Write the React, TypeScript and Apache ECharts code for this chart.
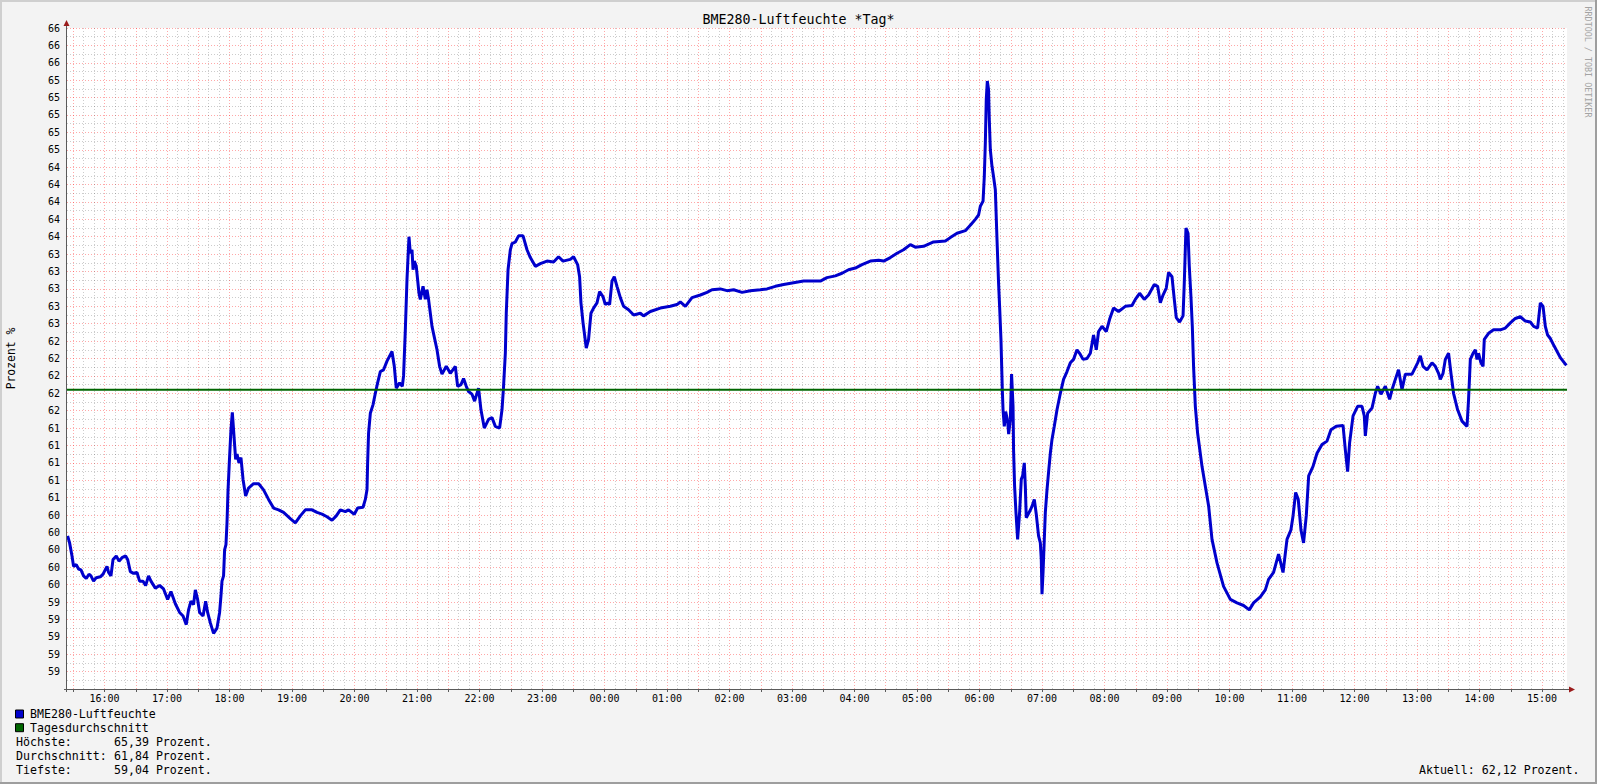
import React, { useEffect, useRef } from "react";
import * as echarts from "echarts";

// ---------- data ----------
const START_HOUR = 15;
const START_MINUTE = 24;
const SPAN_MINUTES = 1440;

const xTickLabels = [
  "16:00", "17:00", "18:00", "19:00", "20:00", "21:00", "22:00", "23:00",
  "00:00", "01:00", "02:00", "03:00", "04:00", "05:00", "06:00", "07:00",
  "08:00", "09:00", "10:00", "11:00", "12:00", "13:00", "14:00", "15:00",
];

const yMin = 58.4;
const yMax = 66.0;
const yStep = 0.2;

// minutes after 15:24
const minutes = [
  0.6, 2.5, 4.8, 6.3, 8.9, 11.1, 13.4, 15.9, 18.5, 21.1, 23, 25.5, 28.1, 32, 34.6, 38.4, 39.9, 42.2, 44.2, 47.3,
  49.9, 52.8, 56.3, 58.2, 60.8, 63.9, 67.2, 69.7, 73, 75.5, 78.3, 80.6, 84.8, 88.9, 92.7, 96.6, 99.8, 104, 108.1, 111.4,
  114.5, 116.7, 119, 121.5, 123.2, 125.4, 127.3, 130.6, 133.1, 135, 137.6, 140.7, 144, 146.5, 147.8, 148.8, 150.3, 151.3, 152.6, 153.6,
  154.6, 155.8, 157.4, 158.7, 159.9, 161.9, 163.2, 165.1, 167, 169, 171.5, 174.3, 179.1, 184, 188.7, 193.5, 198.3, 203.1, 207.9, 214.4,
  219.2, 224, 228.8, 235.2, 240, 244.8, 249.6, 254.4, 258.5, 262.4, 267.2, 270.3, 275.8, 279, 284.2, 286.4, 288, 288.6, 289.5, 291.2,
  293.8, 296, 298.2, 300.8, 303.9, 307.2, 312, 314.2, 316.1, 319.3, 321.9, 323.1, 324.8, 326.4, 328.3, 329.6, 331.2, 332.2, 333.4, 335.3,
  337.9, 339.2, 341.8, 344, 345.6, 347.1, 350.4, 355.2, 357.7, 360, 364.1, 368, 372.8, 375, 378.2, 380.7, 383.3, 385.5, 388.8, 391.3,
  395.1, 397.4, 400.6, 404.7, 408, 411.2, 415.3, 417.6, 419.1, 420.8, 421.7, 423.4, 425.6, 427.2, 430.4, 433.5, 437.8, 441.6, 444.8, 449.6,
  454.4, 460.8, 467.1, 471.9, 476.2, 483.2, 486.3, 490.2, 492.1, 493.4, 495.4, 498.5, 500.7, 503, 505.5, 508.8, 511.3, 514.6, 516.8, 519,
  520.9, 523.2, 525.4, 528, 531.2, 534.3, 539.1, 544, 550.4, 553.5, 560, 569.6, 579.2, 585.6, 588.8, 593.6, 600, 608, 614.4, 619.2,
  627.2, 633.6, 640, 648, 656, 665.6, 672, 680, 688, 697.5, 707.1, 716.7, 723.2, 729.6, 737.6, 744, 750.3, 756.8, 763.2, 771.2,
  779.1, 784, 790.4, 796.8, 803.1, 809.6, 814.4, 822.3, 831.9, 843.2, 848, 854.4, 862.4, 867.8, 872, 875.1, 876.8, 879.4, 880.6, 881.6,
  882.5, 883.5, 884.7, 885.4, 886.4, 888, 889.5, 891.2, 892.8, 894.3, 895.3, 896.6, 897.9, 898.6, 899.8, 901.1, 903, 904, 905.6, 906.8,
  908.2, 908.7, 909.7, 911, 912.6, 914.5, 916.1, 917.4, 919, 920, 920.9, 924.1, 926.4, 928.6, 930.5, 932.7, 934.4, 935.3, 936, 937,
  938.2, 939.2, 940.8, 942.3, 944, 945.6, 947.8, 950.4, 953.6, 956.7, 960, 963.2, 966.3, 969.6, 972.1, 975.4, 979.2, 982.4, 985.5, 988.1,
  990.3, 993.6, 997.7, 1000.9, 1004.7, 1009.5, 1016, 1022.4, 1025.6, 1029.7, 1034.2, 1038.3, 1043.8, 1047, 1049.6, 1052.2, 1055.3, 1057.5, 1060.8, 1063,
  1064.9, 1068.1, 1071.4, 1072.6, 1074.2, 1076.2, 1077.4, 1079, 1080.3, 1081.5, 1083.2, 1085.4, 1089.6, 1092.8, 1096, 1099.2, 1104, 1110.3, 1116.8, 1123.2,
  1129.5, 1135, 1139.1, 1145.6, 1150.4, 1153.5, 1158.3, 1163.1, 1167.4, 1171.2, 1175, 1177, 1179.5, 1182, 1184.6, 1187.1, 1189.7, 1192, 1196.2, 1200,
  1204.8, 1209.6, 1213.4, 1218.5, 1225, 1227.2, 1229.4, 1231.3, 1234.6, 1239, 1243.2, 1245.4, 1246.4, 1248.6, 1252.8, 1256, 1258.2, 1261.4, 1265.6, 1269.7,
  1272, 1275.2, 1278.3, 1281.6, 1284.8, 1291.2, 1296.6, 1299.2, 1301.8, 1305.6, 1310.4, 1313.6, 1316.7, 1318.4, 1321, 1323.2, 1326.3, 1328.6, 1331.1, 1335,
  1339.2, 1344, 1345.5, 1347.2, 1349.8, 1352, 1353.6, 1355.1, 1357.4, 1359.4, 1360.6, 1364.7, 1369.5, 1376, 1380.8, 1385.6, 1390.4, 1395.2, 1400, 1404.8,
  1408, 1411.8, 1414.4, 1417, 1419.2, 1421.4, 1424, 1427.8, 1433.6, 1439.4,
];

const humidity = [
  60.16, 60.08, 59.93, 59.81, 59.83, 59.78, 59.77, 59.70, 59.67, 59.72, 59.70, 59.64, 59.68, 59.69, 59.72, 59.81, 59.74, 59.70, 59.89, 59.93,
  59.87, 59.91, 59.93, 59.89, 59.75, 59.73, 59.74, 59.64, 59.64, 59.59, 59.70, 59.64, 59.56, 59.59, 59.55, 59.43, 59.52, 59.38, 59.28, 59.24,
  59.14, 59.31, 59.41, 59.37, 59.54, 59.43, 59.28, 59.24, 59.41, 59.28, 59.16, 59.04, 59.10, 59.28, 59.47, 59.64, 59.70, 60.00, 60.06, 60.31,
  60.69, 61.00, 61.38, 61.58, 61.38, 61.04, 61.10, 61.00, 61.06, 60.81, 60.62, 60.71, 60.76, 60.76, 60.69, 60.58, 60.48, 60.46, 60.43, 60.36,
  60.31, 60.39, 60.46, 60.46, 60.43, 60.41, 60.38, 60.34, 60.39, 60.46, 60.44, 60.46, 60.41, 60.48, 60.49, 60.58, 60.69, 61.00, 61.34, 61.57,
  61.67, 61.80, 61.92, 62.05, 62.07, 62.17, 62.28, 62.11, 61.86, 61.92, 61.88, 62.00, 62.53, 63.11, 63.60, 63.41, 63.45, 63.22, 63.32, 63.26,
  62.95, 62.88, 63.03, 62.88, 62.99, 62.88, 62.57, 62.30, 62.11, 62.02, 62.11, 62.03, 62.11, 61.88, 61.90, 61.97, 61.88, 61.82, 61.79, 61.71,
  61.86, 61.61, 61.40, 61.50, 61.52, 61.42, 61.40, 61.61, 61.88, 62.26, 62.72, 63.22, 63.45, 63.52, 63.54, 63.61, 63.61, 63.45, 63.36, 63.26,
  63.29, 63.32, 63.31, 63.37, 63.32, 63.34, 63.37, 63.28, 63.14, 62.84, 62.61, 62.32, 62.42, 62.72, 62.78, 62.84, 62.97, 62.91, 62.82, 62.84,
  62.82, 63.09, 63.14, 63.03, 62.90, 62.80, 62.76, 62.70, 62.72, 62.69, 62.74, 62.78, 62.80, 62.82, 62.85, 62.80, 62.90, 62.93, 62.96, 62.99,
  63.00, 62.98, 62.99, 62.96, 62.98, 62.99, 63.00, 63.03, 63.05, 63.07, 63.09, 63.09, 63.09, 63.13, 63.15, 63.18, 63.22, 63.24, 63.28, 63.32,
  63.33, 63.32, 63.36, 63.41, 63.45, 63.51, 63.48, 63.49, 63.54, 63.55, 63.59, 63.64, 63.67, 63.74, 63.80, 63.85, 63.95, 64.01, 64.29, 64.68,
  65.18, 65.39, 65.29, 64.95, 64.60, 64.41, 64.29, 64.14, 63.57, 63.07, 62.80, 62.42, 61.84, 61.61, 61.42, 61.59, 61.48, 61.33, 61.50, 62.02,
  61.65, 61.15, 60.73, 60.43, 60.12, 60.43, 60.81, 60.85, 61.00, 60.73, 60.37, 60.44, 60.50, 60.58, 60.41, 60.16, 60.08, 59.89, 59.49, 59.74,
  60.12, 60.43, 60.69, 60.89, 61.11, 61.27, 61.42, 61.61, 61.80, 61.96, 62.05, 62.15, 62.19, 62.30, 62.26, 62.19, 62.20, 62.26, 62.47, 62.30,
  62.51, 62.57, 62.51, 62.65, 62.78, 62.74, 62.80, 62.81, 62.88, 62.95, 62.88, 62.93, 63.05, 63.03, 62.84, 62.93, 63.01, 63.19, 63.14, 62.88,
  62.67, 62.62, 62.69, 63.07, 63.70, 63.64, 63.26, 62.91, 62.57, 62.11, 61.65, 61.34, 60.96, 60.73, 60.50, 60.12, 59.85, 59.58, 59.43, 59.39,
  59.36, 59.31, 59.39, 59.46, 59.54, 59.66, 59.74, 59.95, 59.74, 60.12, 60.23, 60.39, 60.66, 60.58, 60.23, 60.08, 60.39, 60.85, 60.96, 61.11,
  61.21, 61.25, 61.38, 61.42, 61.43, 61.15, 60.90, 61.23, 61.54, 61.65, 61.65, 61.54, 61.31, 61.57, 61.63, 61.80, 61.88, 61.79, 61.88, 61.73,
  61.84, 61.96, 62.07, 61.84, 62.02, 62.02, 62.15, 62.23, 62.11, 62.07, 62.15, 62.11, 62.03, 61.96, 62.03, 62.19, 62.26, 62.03, 61.80, 61.61,
  61.48, 61.42, 61.73, 62.19, 62.26, 62.30, 62.19, 62.26, 62.15, 62.11, 62.42, 62.49, 62.53, 62.53, 62.55, 62.61, 62.66, 62.68, 62.63, 62.62,
  62.57, 62.55, 62.84, 62.80, 62.57, 62.47, 62.43, 62.34, 62.21, 62.12,
];

const tagesdurchschnitt = 61.84;
const hoechste = 65.39;
const durchschnitt = 61.84;
const tiefste = 59.04;
const aktuell = 62.12;

// ---------- layout ----------
const W = 1597;
const H = 784;
const PL = 67;
const PT = 28;
const PW = 1500;
const PH = 661;
const PB = PT + PH;
const PR = PL + PW;

const MONO = '"DejaVu Sans Mono", "Liberation Mono", monospace';
const BLUE = "#0000CC";
const GREEN = "#006600";
const ARROW = "#9B1C1C";
const AXIS = "#5A5A5A";
const MAJOR = "rgba(255,0,0,0.34)";
const MINOR = "rgba(0,0,0,0.2)";

const fmt = (v: number) => v.toFixed(2).replace(".", ",");

function minuteOfHour(i: number) {
  return (START_MINUTE + i) % 60;
}

function buildCategories() {
  const out: string[] = [];
  for (let i = 0; i <= SPAN_MINUTES; i++) {
    const t = (START_HOUR * 60 + START_MINUTE + i) % 1440;
    const h = Math.floor(t / 60);
    const m = t % 60;
    out.push(String(h).padStart(2, "0") + ":" + String(m).padStart(2, "0"));
  }
  return out;
}

export default function App() {
  const ref = useRef<HTMLDivElement>(null);

  useEffect(() => {
    document.body.style.margin = "0";
    if (!ref.current) return;
    const chart = echarts.init(ref.current, undefined, { renderer: "svg" });
    const cats = buildCategories();
    const tickSet = new Set(xTickLabels);

    const txt = (
      text: string,
      x: number,
      y: number,
      size: number,
      extra: any = {},
      styleExtra: any = {}
    ) => ({
      type: "text",
      x,
      y,
      z: 20,
      silent: true,
      ...extra,
      style: {
        text,
        fontFamily: MONO,
        fontSize: size,
        fill: "#000",
        align: "left",
        verticalAlign: "middle",
        ...styleExtra,
      },
    });

    const legendY = [714, 727.7, 742.3, 756, 770];
    const valueCol = 16 + 14 * 7;

    const option: any = {
      animation: false,
      backgroundColor: "#F3F3F3",
      grid: {
        left: PL,
        top: PT,
        width: PW,
        height: PH,
        show: true,
        backgroundColor: "#FFFFFF",
        borderWidth: 0,
        containLabel: false,
      },
      xAxis: [
        { type: "value", min: 0, max: SPAN_MINUTES, show: false },
        {
          type: "category",
          data: cats,
          boundaryGap: false,
          position: "bottom",
          axisLine: { show: false },
          axisTick: {
            show: true,
            length: 3,
            interval: (i: number) => minuteOfHour(i) % 30 === 0,
            lineStyle: { color: AXIS },
          },
          axisLabel: {
            interval: (_i: number, v: string) => tickSet.has(v),
            fontFamily: MONO,
            fontSize: 10,
            color: "#000",
            margin: 4,
          },
          splitLine: {
            show: true,
            interval: (i: number) => minuteOfHour(i) % 30 === 0,
            lineStyle: { color: MAJOR, width: 1, type: [1, 2] },
          },
        },
        {
          type: "category",
          data: cats,
          boundaryGap: false,
          position: "bottom",
          axisLine: { show: false },
          axisTick: { show: false },
          axisLabel: { show: false },
          splitLine: {
            show: true,
            interval: (i: number) => minuteOfHour(i) % 10 === 0 && minuteOfHour(i) % 30 !== 0,
            lineStyle: { color: MINOR, width: 1, type: [1, 2] },
          },
        },
      ],
      yAxis: {
        type: "value",
        min: yMin,
        max: yMax,
        interval: yStep,
        axisLine: { show: false },
        axisTick: { show: false },
        axisLabel: {
          formatter: (v: number) => (v < yMin + yStep / 2 ? "" : String(Math.round(v))),
          fontFamily: MONO,
          fontSize: 10,
          color: "#000",
          margin: 7,
        },
        splitLine: {
          show: true,
          lineStyle: { color: MAJOR, width: 1, type: [1, 2] },
        },
        minorTick: { show: false, splitNumber: 2 },
        minorSplitLine: {
          show: true,
          lineStyle: { color: MINOR, width: 1, type: [1, 2] },
        },
      },
      series: [
        {
          name: "BME280-Luftfeuchte",
          type: "line",
          xAxisIndex: 0,
          yAxisIndex: 0,
          data: minutes.map((m, i) => [m, humidity[i]]),
          symbol: "none",
          lineStyle: { color: BLUE, width: 3 },
          z: 3,
          silent: true,
        },
        {
          name: "Tagesdurchschnitt",
          type: "line",
          xAxisIndex: 0,
          yAxisIndex: 0,
          data: [
            [0, tagesdurchschnitt],
            [SPAN_MINUTES, tagesdurchschnitt],
          ],
          symbol: "none",
          lineStyle: { color: GREEN, width: 2 },
          z: 4,
          silent: true,
        },
      ],
      graphic: [
        // frame
        { type: "rect", shape: { x: 0, y: 0, width: W, height: 2 }, style: { fill: "#CFCFCF" }, silent: true, z: 1 },
        { type: "rect", shape: { x: 0, y: 0, width: 2, height: H }, style: { fill: "#CFCFCF" }, silent: true, z: 1 },
        { type: "rect", shape: { x: 0, y: H - 2, width: W, height: 2 }, style: { fill: "#9E9E9E" }, silent: true, z: 1 },
        { type: "rect", shape: { x: W - 2, y: 0, width: 2, height: H }, style: { fill: "#9E9E9E" }, silent: true, z: 1 },
        // axes
        { type: "line", shape: { x1: PL - 3, y1: PB + 0.5, x2: PR + 3, y2: PB + 0.5 }, style: { stroke: AXIS, lineWidth: 1 }, silent: true, z: 10 },
        { type: "line", shape: { x1: PL - 0.5, y1: PB + 3, x2: PL - 0.5, y2: PT - 3 }, style: { stroke: AXIS, lineWidth: 1 }, silent: true, z: 10 },
        { type: "polygon", shape: { points: [[PR + 2, PB - 2.5], [PR + 8, PB + 0.5], [PR + 2, PB + 3.5]] }, style: { fill: ARROW }, silent: true, z: 11 },
        { type: "polygon", shape: { points: [[PL - 3.5, PT - 2], [PL - 0.5, PT - 8], [PL + 2.5, PT - 2]] }, style: { fill: ARROW }, silent: true, z: 11 },
        // title & side texts
        txt("BME280-Luftfeuchte *Tag*", W / 2, 19.5, 13.3, {}, { align: "center" }),
        txt("Prozent %", 11, (PT + PB) / 2, 11.4, { rotation: Math.PI / 2 }, { align: "center" }),
        txt("RRDTOOL / TOBI OETIKER", 1587.5, 62, 8.4, { rotation: -Math.PI / 2 }, { align: "center", fill: "#A3A3A3" }),
        // legend
        { type: "rect", shape: { x: 15.5, y: legendY[0] - 4, width: 8, height: 8 }, style: { fill: BLUE, stroke: "#000", lineWidth: 1 }, silent: true, z: 20 },
        { type: "rect", shape: { x: 15.5, y: legendY[1] - 4, width: 8, height: 8 }, style: { fill: GREEN, stroke: "#000", lineWidth: 1 }, silent: true, z: 20 },
        txt("BME280-Luftfeuchte", 30, legendY[0], 11.6),
        txt("Tagesdurchschnitt", 30, legendY[1], 11.6),
        txt("Höchste:", 16, legendY[2], 11.6),
        txt(fmt(hoechste) + " Prozent.", valueCol, legendY[2], 11.6),
        txt("Durchschnitt:", 16, legendY[3], 11.6),
        txt(fmt(durchschnitt) + " Prozent.", valueCol, legendY[3], 11.6),
        txt("Tiefste:", 16, legendY[4], 11.6),
        txt(fmt(tiefste) + " Prozent.", valueCol, legendY[4], 11.6),
        txt("Aktuell: " + fmt(aktuell) + " Prozent.", 1579.5, legendY[4], 11.6, {}, { align: "right" }),
      ],
    };

    chart.setOption(option);
    return () => chart.dispose();
  }, []);

  return <div ref={ref} style={{ width: W, height: H, overflow: "hidden" }} />;
}
